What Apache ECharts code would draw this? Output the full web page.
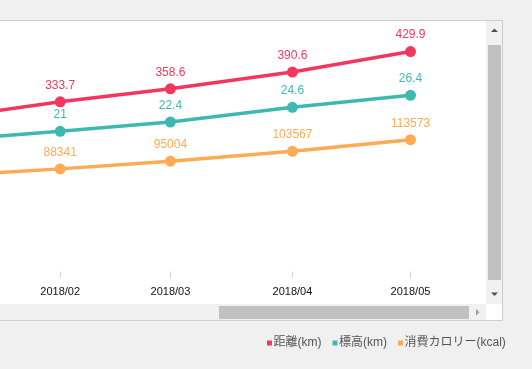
<!DOCTYPE html>
<html>
<head>
<meta charset="utf-8">
<script src="https://cdn.jsdelivr.net/npm/echarts@6/dist/echarts.min.js"></script>
<style>
html,body{margin:0;padding:0;background:#f0f0f0;}
#c{width:532px;height:369px;}
</style>
</head>
<body>
<div id="c"></div>
<script>
// ---- data ----
const months = ['2018/01', '2018/02', '2018/03', '2018/04', '2018/05'];
const distance = [301, 333.7, 358.6, 390.6, 429.9];      // 距離(km)
const elevation = [19.6, 21, 22.4, 24.6, 26.4];          // 標高(km)
const calories = [82000, 88341, 95004, 103567, 113573];  // 消費カロリー(kcal)
const tickLabels = ['2018/02', '2018/03', '2018/04', '2018/05'];
const seriesNames = ['距離(km)', '標高(km)', '消費カロリー(kcal)'];

const colors = ['#f3365e', '#3fb8b1', '#ffaa55'];

const DAY = 86400000;
// day index (days since 2018/01/01) of the first day of a 'yyyy/MM' month
function toDay(s) {
  const p = s.split('/');
  return Math.round((Date.UTC(+p[0], +p[1] - 1, 1) - Date.UTC(2018, 0, 1)) / DAY);
}
function dayLabel(v) {
  const d = new Date(Date.UTC(2018, 0, 1) + Math.round(v) * DAY);
  return d.getUTCFullYear() + '/' + String(d.getUTCMonth() + 1).padStart(2, '0');
}
const feb = toDay('2018/02');
const pxPerDay = 3.936;
const xMin = feb - 60.2 / pxPerDay;
const xMax = feb + (486 - 60.2) / pxPerDay;

function pairs(vals) { return months.map((m, i) => [toDay(m), vals[i]]); }

const chart = echarts.init(document.getElementById('c'), null, {renderer: 'canvas'});

function lineSeries(name, vals, idx) {
  return {
    name: name,
    type: 'line',
    yAxisIndex: idx,
    data: pairs(vals),
    symbol: 'circle',
    symbolSize: 11,
    lineStyle: {width: 3.5, color: colors[idx]},
    itemStyle: {color: colors[idx]},
    label: {show: true, position: 'top', distance: 5, color: colors[idx], fontSize: 12,
            fontFamily: 'Liberation Sans, Arial, sans-serif'},
    emphasis: {disabled: true},
    animation: false,
    clip: true
  };
}

const tickVals = tickLabels.map(toDay);

chart.setOption({
  backgroundColor: '#f0f0f0',
  animation: false,
  color: colors,
  grid: {left: 0, right: 46, top: 40, bottom: 97, containLabel: false},
  xAxis: {
    type: 'value',
    min: xMin,
    max: xMax,
    axisLine: {show: false},
    splitLine: {show: false},
    axisTick: {show: true, length: 6, lineStyle: {color: '#d0d0d0'}, customValues: tickVals},
    axisLabel: {
      customValues: tickVals,
      margin: 14,
      fontSize: 11,
      color: '#111',
      fontFamily: 'Liberation Sans, Arial, sans-serif',
      formatter: dayLabel
    }
  },
  yAxis: [
    {type: 'value', show: false, min: 7.85, max: 451.95},
    {type: 'value', show: false, min: -0.06, max: 34.68},
    {type: 'value', show: false, min: -952, max: 199931}
  ],
  legend: {
    data: seriesNames,
    left: 262,
    top: 332,
    icon: 'rect',
    itemWidth: 5,
    itemHeight: 5,
    itemGap: 11,
    selectedMode: false,
    textStyle: {fontSize: 12, color: '#555', padding: [0, 0, 0, -3.5],
                fontFamily: 'Liberation Sans, "Noto Sans CJK JP", sans-serif'}
  },
  graphic: [
    {type: 'rect', z: -10, silent: true, shape: {x: -10, y: 20.5, width: 512.5, height: 300},
     style: {fill: '#ffffff', stroke: '#cdcdcd', lineWidth: 1}},
    // vertical scrollbar
    {type: 'rect', z: 100, silent: true, shape: {x: 486, y: 21, width: 16, height: 283}, style: {fill: '#f1f1f1'}},
    {type: 'rect', z: 101, silent: true, shape: {x: 488, y: 45, width: 13, height: 235}, style: {fill: '#c1c1c1'}},
    {type: 'polygon', z: 101, silent: true, shape: {points: [[491, 32], [498, 32], [494.5, 28.5]]}, style: {fill: '#505050'}},
    {type: 'polygon', z: 101, silent: true, shape: {points: [[491, 292.5], [498, 292.5], [494.5, 296]]}, style: {fill: '#505050'}},
    // horizontal scrollbar
    {type: 'rect', z: 100, silent: true, shape: {x: -10, y: 304, width: 496, height: 16}, style: {fill: '#f1f1f1'}},
    {type: 'rect', z: 101, silent: true, shape: {x: 219, y: 306, width: 250, height: 13}, style: {fill: '#c1c1c1'}},
    {type: 'polygon', z: 101, silent: true, shape: {points: [[476, 308.8], [476, 315.8], [479.5, 312.3]]}, style: {fill: '#a3a3a3'}},
    // corner
    {type: 'rect', z: 100, silent: true, shape: {x: 486, y: 304, width: 16, height: 16}, style: {fill: '#ffffff'}}
  ],
  series: [
    lineSeries(seriesNames[0], distance, 0),
    lineSeries(seriesNames[1], elevation, 1),
    lineSeries(seriesNames[2], calories, 2)
  ]
});
</script>
</body>
</html>
